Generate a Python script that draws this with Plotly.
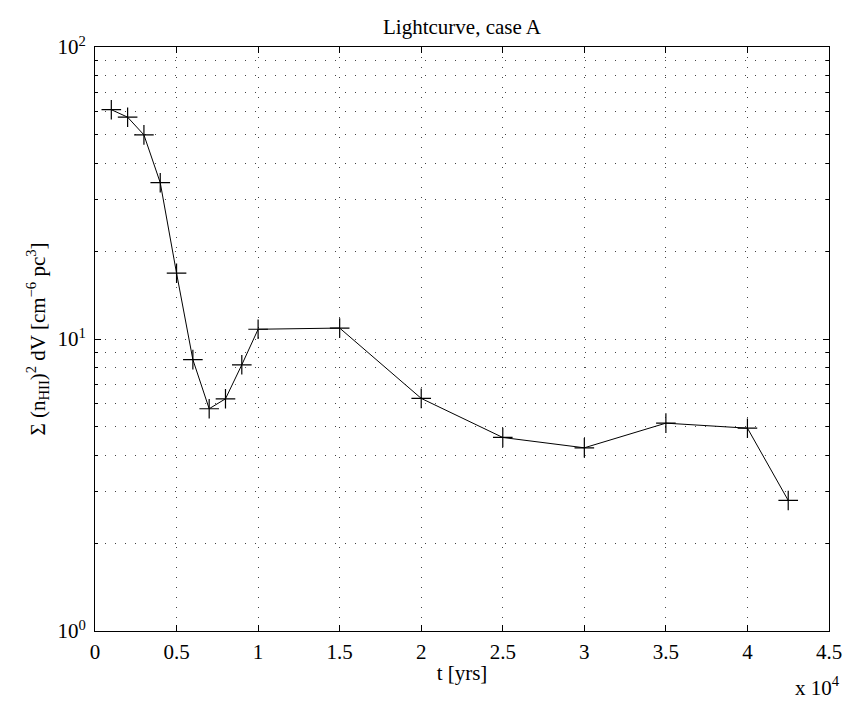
import plotly.graph_objects as go

t_years = [1000, 2000, 3000, 4000, 5000, 6000, 7000, 8000, 9000, 10000,
           15000, 20000, 25000, 30000, 35000, 40000, 42500]
emission = [61.0, 57.5, 50.0, 34.3, 16.8, 8.5, 5.77, 6.24, 8.16, 10.8,
            10.9, 6.26, 4.6, 4.24, 5.15, 4.95, 2.8]

x_tickvals = [0, 5000, 10000, 15000, 20000, 25000, 30000, 35000, 40000, 45000]
x_ticktext = ["0", "0.5", "1", "1.5", "2", "2.5", "3", "3.5", "4", "4.5"]
y_tickvals = [1, 10, 100]
y_ticktext = ["10<sup>0</sup>", "10<sup>1</sup>", "10<sup>2</sup>"]
y_minor = [d * m for m in (1, 10) for d in range(2, 10)]

FONT = "Liberation Serif"
FS = 21
DOT = "1px,9px"
GRIDC = "#444444"

fig = go.Figure()
fig.add_trace(go.Scatter(
    x=t_years, y=emission, mode="lines+markers",
    line=dict(color="black", width=1),
    marker=dict(symbol="cross-thin", size=14, line=dict(color="black", width=1.2)),
    showlegend=False,
))

fig.update_layout(
    width=854, height=702,
    margin=dict(l=95, r=18, t=47, b=71),
    paper_bgcolor="white", plot_bgcolor="white",
    font=dict(family=FONT, size=FS, color="black"),
)
fig.update_xaxes(
    range=[0, 45000], tickvals=x_tickvals, ticktext=x_ticktext,
    showline=True, linecolor="black", linewidth=1, mirror="ticks",
    ticks="inside", ticklen=6, tickcolor="black",
    showgrid=True, gridcolor=GRIDC, griddash=DOT, gridwidth=1,
    zeroline=False, ticklabelstandoff=2,
    title=dict(text="t [yrs]", font=dict(size=FS), standoff=2),
)
fig.update_yaxes(
    type="log", range=[0, 2], tickvals=y_tickvals, ticktext=y_ticktext,
    showline=True, linecolor="black", linewidth=1, mirror="allticks",
    ticks="inside", ticklen=6, tickcolor="black",
    showgrid=True, gridcolor=GRIDC, griddash=DOT, gridwidth=1,
    minor=dict(tickvals=y_minor, ticks="inside", ticklen=3, tickcolor="black",
               showgrid=True, gridcolor=GRIDC, griddash=DOT, gridwidth=1),
    zeroline=False, ticklabelstandoff=4,
    title=dict(text="Σ (n<sub>HII</sub>)<sup>2</sup> dV [cm<sup>−6</sup> pc<sup>3</sup>]",
               font=dict(size=FS), standoff=6),
)
fig.add_annotation(
    text="Lightcurve, case A", xref="paper", yref="paper", x=0.5, y=1,
    yanchor="bottom", yshift=6, showarrow=False, font=dict(size=FS),
)
fig.add_annotation(
    text="x 10<sup>4</sup>", xref="paper", yref="paper", x=1.018, y=0,
    xanchor="right", yanchor="top", yshift=-40, showarrow=False, font=dict(size=FS),
)

fig.write_html("out.html")
